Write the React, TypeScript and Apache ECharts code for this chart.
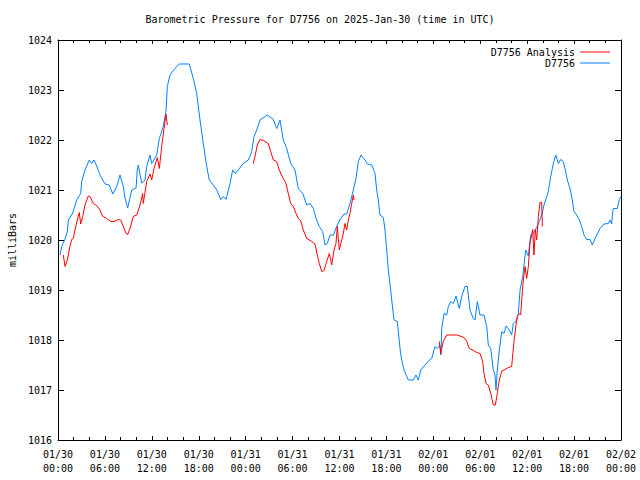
import React, { useEffect, useRef } from "react";
import * as echarts from "echarts";

const TITLE = "Barometric Pressure for D7756 on 2025-Jan-30 (time in UTC)";
const Y_NAME = "milliBars";
const SERIES_NAMES = ["D7756 Analysis", "D7756"];
const DAY_LABELS = ["01/30", "01/31", "02/01", "02/02"];

// hours since 2025-01-30 00:00 UTC
const blueHours = [
  0.26, 0.47, 0.9, 1.19, 1.32, 1.88, 2.39, 2.9, 3.03, 3.45, 4.0, 4.31, 4.6, 4.95, 5.37, 6.01, 6.56, 7.0, 7.51, 7.93,
  8.35, 8.57, 8.91, 9.43, 9.98, 10.14, 10.27, 10.7, 11.13, 11.34, 11.77, 11.98, 12.62, 12.96, 13.47, 13.81, 13.98, 14.32, 14.84, 15.51,
  16.79, 17.3, 17.74, 18.16, 18.58, 19.02, 19.35, 19.86, 20.3, 20.81, 21.14, 21.49, 22.0, 22.34, 22.68, 23.06, 23.62, 24.34, 24.56, 24.77,
  25.07, 25.41, 25.83, 26.77, 27.54, 27.97, 28.39, 28.81, 29.25, 29.76, 30.31, 30.73, 31.3, 31.81, 32.23, 32.65, 33.0, 33.42, 33.85, 34.15,
  34.44, 34.79, 35.21, 35.72, 36.07, 36.58, 36.92, 37.34, 37.77, 38.11, 38.41, 38.75, 39.26, 39.56, 40.12, 40.54, 40.76, 40.96, 41.18, 41.6,
  41.82, 42.04, 42.24, 42.55, 42.68, 42.97, 43.39, 43.74, 43.95, 44.25, 44.8, 45.44, 45.78, 46.08, 46.39, 46.94, 47.49, 47.79, 48.21, 48.51,
  48.85, 48.98, 49.07, 49.37, 49.71, 49.92, 50.22, 50.56, 50.9, 51.32, 51.63, 52.05, 52.35, 52.69, 53.11, 53.33, 53.63, 53.97, 54.48, 54.83,
  55.03, 55.34, 55.67, 55.89, 56.02, 56.18, 56.44, 56.75, 57.04, 57.3, 57.72, 58.02, 58.23, 58.66, 58.87, 59.09, 59.43, 59.81, 60.15, 60.45,
  60.79, 61.22, 61.55, 61.86, 62.15, 62.5, 62.7, 63.01, 63.35, 63.65, 63.99, 64.29, 64.63, 64.88, 65.14, 65.48, 65.74, 65.99, 66.34, 66.67,
  66.98, 67.27, 67.62, 68.04, 68.33, 68.68, 69.32, 69.83, 70.38, 70.59, 70.81, 70.94, 71.02, 71.53, 71.79, 72.0,
];
const blueValues = [
  1019.7, 1019.87, 1020.02, 1020.17, 1020.4, 1020.54, 1020.8, 1020.93, 1021.17, 1021.4, 1021.6, 1021.53, 1021.6, 1021.48, 1021.3, 1021.12, 1021.1, 1020.92, 1021.07, 1021.3,
  1021.07, 1020.84, 1020.64, 1021.0, 1021.04, 1021.4, 1021.5, 1021.14, 1021.2, 1021.47, 1021.7, 1021.53, 1021.7, 1022.03, 1022.27, 1022.57, 1023.07, 1023.3, 1023.41, 1023.52,
  1023.52, 1023.23, 1022.93, 1022.4, 1021.93, 1021.47, 1021.2, 1021.1, 1021.0, 1020.81, 1020.87, 1020.81, 1021.13, 1021.4, 1021.33, 1021.4, 1021.52, 1021.6, 1021.68, 1021.77,
  1022.07, 1022.2, 1022.4, 1022.5, 1022.41, 1022.23, 1022.4, 1022.0, 1021.83, 1021.53, 1021.4, 1021.03, 1020.93, 1020.7, 1020.73, 1020.63, 1020.43, 1020.27, 1020.17, 1019.9,
  1019.93, 1020.1, 1020.1, 1020.3, 1020.41, 1020.52, 1020.52, 1020.73, 1021.0, 1021.23, 1021.57, 1021.7, 1021.6, 1021.52, 1021.5, 1021.33, 1021.0, 1020.8, 1020.5, 1020.45,
  1020.2, 1019.8, 1019.4, 1019.0, 1018.8, 1018.4, 1018.37, 1017.83, 1017.6, 1017.4, 1017.2, 1017.2, 1017.3, 1017.2, 1017.4, 1017.5, 1017.6, 1017.63, 1017.87, 1017.83,
  1017.9, 1017.7, 1018.23, 1018.53, 1018.5, 1018.67, 1018.77, 1018.73, 1018.88, 1018.63, 1018.87, 1019.07, 1019.07, 1018.6, 1018.43, 1018.4, 1018.77, 1018.5, 1018.5, 1018.27,
  1017.9, 1017.83, 1017.4, 1017.3, 1017.0, 1017.4, 1017.8, 1018.17, 1018.13, 1018.28, 1018.2, 1018.1, 1018.33, 1018.4, 1018.53, 1019.0, 1019.27, 1019.8, 1019.68, 1020.1,
  1020.13, 1020.25, 1020.37, 1020.5, 1020.7, 1020.87, 1020.97, 1021.27, 1021.53, 1021.7, 1021.53, 1021.61, 1021.57, 1021.4, 1021.2, 1021.03, 1020.83, 1020.57, 1020.5, 1020.4,
  1020.27, 1020.1, 1020.01, 1020.01, 1019.9, 1020.03, 1020.23, 1020.32, 1020.33, 1020.4, 1020.32, 1020.57, 1020.63, 1020.63, 1020.81, 1020.86,
];

// null values mark gaps in the analysis series
const redHours = [
  0.68, 0.9, 1.19, 1.53, 1.75, 1.96, 2.17, 2.47, 2.72, 2.9, 3.16, 3.45, 3.88, 4.09, 4.51, 4.95, 5.37, 5.67, 6.23, 6.74,
  7.16, 7.71, 8.02, 8.35, 8.7, 8.91, 9.21, 9.63, 10.07, 10.49, 10.83, 10.91, 11.34, 11.77, 11.98, 12.28, 12.7, 12.96, 13.26, 13.56,
  13.81, 13.98, 19.0,
  24.98, 25.19, 25.49, 25.83, 26.26, 26.9, 27.2, 27.54, 27.97, 28.3, 28.74, 29.16, 29.45, 29.76, 30.09, 30.44, 30.73, 31.04, 31.37, 31.81,
  32.45, 32.87, 33.16, 33.42, 33.73, 34.02, 34.36, 34.7, 35.0, 35.3, 35.55, 35.72, 35.98, 36.28, 36.49, 36.7, 36.92, 37.13, 37.34, 37.56,
  37.77, 37.85, 43.0,
  48.76, 48.94, 49.27, 49.71, 50.99, 51.41, 51.92, 52.27, 52.6, 53.04, 53.55, 53.97, 54.31, 54.48, 54.74, 55.03, 55.34, 55.67, 55.93, 56.18,
  56.44, 56.75, 57.17, 57.59, 58.02, 58.15, 58.36, 58.57, 58.74, 59.0, 59.17, 59.3, 59.51, 59.73, 59.94, 60.15, 60.36, 60.58, 60.71, 60.87,
  61.04, 61.22, 61.43, 61.64, 61.86, 61.94,
];
const redValues = [
  1019.7, 1019.47, 1019.6, 1019.87, 1020.01, 1020.03, 1020.2, 1020.4, 1020.55, 1020.32, 1020.47, 1020.7, 1020.88, 1020.87, 1020.73, 1020.69, 1020.6, 1020.48, 1020.43, 1020.37,
  1020.37, 1020.41, 1020.4, 1020.27, 1020.13, 1020.11, 1020.23, 1020.47, 1020.5, 1020.7, 1020.93, 1020.73, 1021.17, 1021.32, 1021.2, 1021.43, 1021.65, 1021.43, 1021.87, 1022.23,
  1022.52, 1022.3, null,
  1021.53, 1021.67, 1021.9, 1022.01, 1021.99, 1021.93, 1021.77, 1021.6, 1021.57, 1021.4, 1021.25, 1021.13, 1020.93, 1020.73, 1020.67, 1020.53, 1020.43, 1020.39, 1020.2, 1020.03,
  1019.97, 1019.92, 1019.7, 1019.53, 1019.37, 1019.39, 1019.57, 1019.73, 1019.5, 1019.8, 1019.93, 1020.27, 1019.8, 1020.0, 1020.13, 1020.33, 1020.2, 1020.4, 1020.53, 1020.73,
  1020.9, 1020.8, null,
  1017.97, 1017.73, 1017.97, 1018.1, 1018.1, 1018.08, 1018.05, 1017.97, 1017.83, 1017.8, 1017.75, 1017.73, 1017.57, 1017.33, 1017.13, 1017.1, 1016.93, 1016.7, 1016.7, 1016.93,
  1017.2, 1017.38, 1017.41, 1017.45, 1017.47, 1017.7, 1018.03, 1018.3, 1018.47, 1018.53, 1018.5, 1018.8, 1019.2, 1019.47, 1019.23, 1019.47, 1019.93, 1020.1, 1020.21, 1019.7,
  1020.21, 1020.0, 1020.47, 1020.75, 1020.75, 1020.27,
];

const FONT = "DejaVu Sans Mono";

function hourLabel(h: number): string {
  const day = Math.floor(h / 24);
  const hh = Math.round(h - day * 24);
  return DAY_LABELS[day] + "\n" + String(hh).padStart(2, "0") + ":00";
}

export default function App() {
  const ref = useRef<HTMLDivElement>(null);
  useEffect(() => {
    if (!ref.current) return;
    const chart = echarts.init(ref.current, undefined, { renderer: "svg" });
    const blueData = blueHours.map((h, i) => [h, blueValues[i]]);
    const redData = redHours.map((h, i) => [h, redValues[i] === null ? "-" : redValues[i]]);
    const txt = { fontFamily: FONT, fontSize: 10, color: "#000" };
    const xBase = {
      type: "value",
      min: 0,
      max: 72,
      interval: 6,
      splitLine: { show: false },
      axisLine: { show: true, onZero: false, lineStyle: { color: "#000", width: 1 } },
      axisTick: { show: true, inside: true, length: 4, lineStyle: { color: "#000" } },
      minorTick: { show: true, splitNumber: 3, length: 3, lineStyle: { color: "#000" } },
    };
    const yBase = {
      type: "value",
      min: 1016,
      max: 1024,
      interval: 1,
      splitLine: { show: false },
      axisLine: { show: true, onZero: false, lineStyle: { color: "#000", width: 1 } },
      axisTick: { show: true, inside: true, length: 6, lineStyle: { color: "#000" } },
    };
    chart.setOption({
      animation: false,
      backgroundColor: "#fff",
      title: {
        text: TITLE,
        left: "center",
        top: 9,
        textStyle: { ...txt, fontWeight: "normal" },
      },
      legend: {
        orient: "vertical",
        right: 25,
        top: 42,
        align: "right",
        itemWidth: 30,
        itemHeight: 1,
        itemGap: 1,
        icon: "rect",
        textStyle: { ...txt },
        data: SERIES_NAMES,
      },
      grid: { left: 58, right: 19, top: 40, bottom: 40, containLabel: false, outerBoundsMode: "none" },
      xAxis: [
        {
          ...xBase,
          position: "bottom",
          axisLabel: { ...txt, margin: 7, lineHeight: 14, formatter: (v: number) => hourLabel(v) },
        },
        { ...xBase, position: "top", axisLabel: { show: false } },
      ],
      yAxis: [
        {
          ...yBase,
          position: "left",
          name: Y_NAME,
          nameLocation: "middle",
          nameGap: 40,
          nameRotate: 90,
          nameTextStyle: { ...txt },
          axisLabel: { ...txt, margin: 6, formatter: (v: number) => String(v) },
        },
        { ...yBase, position: "right", axisLabel: { show: false } },
      ],
      series: [
        {
          name: SERIES_NAMES[0],
          type: "line",
          data: redData,
          symbol: "none",
          connectNulls: false,
          lineStyle: { color: "#ff0000", width: 1 },
          itemStyle: { color: "#ff0000" },
          z: 3,
        },
        {
          name: SERIES_NAMES[1],
          type: "line",
          data: blueData,
          symbol: "none",
          lineStyle: { color: "#0080ff", width: 1 },
          itemStyle: { color: "#0080ff" },
          z: 2,
        },
      ],
    });
    return () => chart.dispose();
  }, []);
  return <div ref={ref} style={{ width: 640, height: 480, position: "absolute", left: 0, top: 0 }} />;
}
